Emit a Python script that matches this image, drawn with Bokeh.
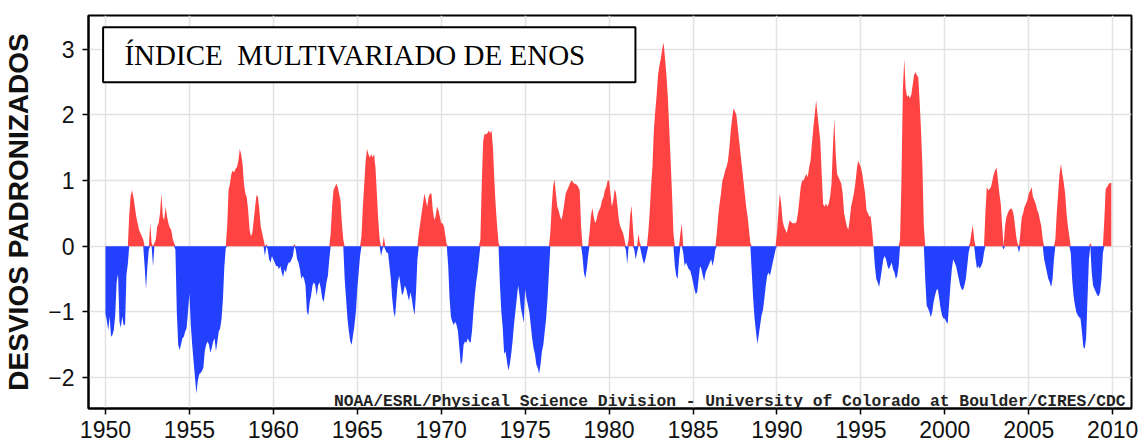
import numpy as np
from bokeh.plotting import figure
from bokeh.models import Range1d, FixedTicker, Label, BoxAnnotation
from bokeh.embed import file_html
from bokeh.resources import INLINE

# Multivariate ENSO Index, monthly (bimonthly season) values
mei_1950s = [
    -1.03, -1.13, -1.28, -1.07, -1.38, -1.35, -1.27, -1.04, -0.55, -0.42, -1.15, -1.24,
    -1.07, -1.2, -1.2, -0.44, -0.27, 0.48, 0.76, 0.85, 0.75, 0.6, 0.45, 0.35,
    0.25, 0.2, 0.15, 0.1, -0.3, -0.65, -0.3, -0.05, 0.35, 0.05, -0.31, 0.05,
    0.1, 0.3, 0.35, 0.5, 0.8, 0.45, 0.4, 0.6, 0.45, 0.35, 0.28, 0.25,
    0.12, 0.05, -0.05, -1.0, -1.5, -1.58, -1.5, -1.4, -1.38, -1.3, -1.25, -1.0,
    -0.72, -1.2, -1.5, -1.75, -2.0, -2.24, -2.05, -1.95, -1.93, -1.9, -1.85, -1.6,
    -1.5, -1.45, -1.5, -1.62, -1.55, -1.45, -1.4, -1.6, -1.45, -1.3, -1.25, -1.1,
    -0.8, -0.3, -0.03, 0.3, 0.85, 0.95, 1.1, 1.15, 1.12, 1.18, 1.2, 1.3,
    1.48, 1.4, 1.25, 0.95, 0.8, 0.75, 0.55, 0.25, 0.15, 0.2, 0.4, 0.6,
    0.78, 0.75, 0.55, 0.3, 0.2, 0.1, -0.15, 0.03, -0.05, -0.2, -0.25, -0.15,
]
mei_1960s = [
    -0.2, -0.25, -0.3, -0.3, -0.35, -0.3, -0.4, -0.47, -0.35, -0.4, -0.3, -0.25,
    -0.25, -0.2, -0.15, 0.03, -0.05, -0.2, -0.25, -0.35, -0.5, -0.45, -0.5, -0.6,
    -1.0, -1.05, -0.85, -0.75, -0.6, -0.55, -0.6, -0.75, -0.6, -0.55, -0.65, -0.8,
    -0.85, -0.7, -0.55, -0.45, -0.2, 0.2, 0.6, 0.85, 0.9, 0.95, 0.9, 0.8,
    0.7, 0.35, 0.1, -0.5, -0.8, -1.1, -1.3, -1.45, -1.5, -1.35, -1.2, -1.0,
    -0.65, -0.4, -0.15, 0.15, 0.6, 0.95, 1.3, 1.48, 1.4, 1.35, 1.4, 1.35,
    1.4, 1.2, 0.8, 0.4, 0.1, -0.15, -0.05, 0.15, -0.05, -0.1, -0.1, -0.3,
    -0.5, -0.8, -1.0, -1.08, -0.8, -0.55, -0.45, -0.6, -0.75, -0.7, -0.6, -0.65,
    -0.75, -0.83, -0.7, -0.8, -0.95, -1.05, -0.7, -0.2, 0.2, 0.35, 0.5, 0.65,
    0.8, 0.7, 0.6, 0.75, 0.8, 0.8, 0.55, 0.4, 0.45, 0.6, 0.55, 0.45,
]
mei_1970s = [
    0.35, 0.35, 0.3, 0.15, 0.02, -0.3, -0.8, -1.08, -1.15, -1.2, -1.15, -1.2,
    -1.3, -1.55, -1.8, -1.75, -1.5, -1.45, -1.47, -1.4, -1.45, -1.47, -1.3, -1.0,
    -0.75, -0.55, -0.4, -0.2, 0.1, 0.95, 1.6, 1.71, 1.7, 1.72, 1.76, 1.72,
    1.76, 1.5, 1.0, 0.6, 0.3, 0.05, -0.6, -1.0, -1.25, -1.64, -1.6, -1.75,
    -1.89, -1.8, -1.65, -1.45, -1.2, -1.0, -0.8, -0.6, -0.75, -0.95, -1.05, -1.17,
    -0.65, -0.8, -0.9, -1.0, -1.2, -1.4, -1.55, -1.64, -1.8, -1.85, -1.94, -1.8,
    -1.6, -1.5, -1.3, -1.1, -0.8, -0.4, 0.2, 0.6, 0.9, 1.02, 0.8, 0.6,
    0.54, 0.45, 0.4, 0.5, 0.65, 0.8, 0.85, 0.9, 0.95, 1.0, 0.98, 0.95,
    0.95, 0.93, 0.9, 0.85, 0.3, -0.15, -0.4, -0.49, -0.35, -0.15, 0.2, 0.45,
    0.58, 0.45, 0.35, 0.4, 0.5, 0.55, 0.6, 0.7, 0.75, 0.85, 0.9, 1.0,
]
mei_1980s = [
    1.0, 0.8, 0.6, 0.7, 0.87, 0.8, 0.6, 0.4, 0.3, 0.25, 0.2, 0.1,
    -0.05, -0.27, 0.1, 0.45, 0.62, 0.3, -0.05, -0.2, -0.1, 0.19, 0.05, -0.1,
    -0.2, -0.27, -0.2, -0.1, 0.2, 0.5, 0.9, 1.2, 1.76, 2.05, 2.3, 2.6,
    2.75, 2.85, 3.0, 3.1, 2.85, 2.6, 2.27, 1.8, 1.3, 0.8, 0.2, -0.3,
    -0.45, -0.5, -0.2, 0.2, 0.34, -0.1, -0.3, -0.25, -0.3, -0.35, -0.37, -0.45,
    -0.55, -0.65, -0.73, -0.7, -0.5, -0.3, -0.35, -0.45, -0.53, -0.4, -0.35, -0.3,
    -0.25, -0.2, -0.3, -0.2, -0.05, 0.2, 0.45, 0.65, 0.8, 1.0, 1.06, 1.15,
    1.21, 1.3, 1.5, 1.76, 1.95, 2.1, 2.05, 2.0, 1.8, 1.6, 1.4, 1.2,
    1.0, 0.8, 0.6, 0.45, 0.25, 0.05, -0.4, -0.8, -1.1, -1.3, -1.49, -1.35,
    -1.2, -1.05, -0.97, -0.8, -0.6, -0.45, -0.4, -0.45, -0.35, -0.25, -0.15, -0.05,
]
mei_1990s = [
    0.2, 0.5, 0.8, 0.65, 0.4, 0.3, 0.25, 0.2, 0.3, 0.39, 0.37, 0.35,
    0.35, 0.35, 0.37, 0.5, 0.7, 0.9, 1.0, 1.0, 1.05, 1.1, 1.05, 1.2,
    1.3, 1.56, 1.8, 2.0, 2.22, 2.0, 1.8, 1.6, 1.1, 0.64, 0.6, 0.65,
    0.6, 0.65, 0.75, 0.95, 1.5, 1.94, 1.4, 1.1, 1.05, 1.0, 0.95, 0.8,
    0.5, 0.4, 0.3, 0.25, 0.4, 0.6, 0.7, 0.8, 0.95, 1.15, 1.3, 1.25,
    1.2, 1.1, 0.95, 0.8, 0.55, 0.5, 0.45, 0.45, 0.25, 0.0, -0.3, -0.5,
    -0.55, -0.62, -0.5, -0.35, -0.2, -0.15, -0.2, -0.3, -0.35, -0.3, -0.25, -0.35,
    -0.4, -0.5, -0.45, -0.3, 0.1, 1.0, 2.37, 2.85, 2.4, 2.27, 2.3, 2.25,
    2.3, 2.45, 2.6, 2.65, 2.6, 2.57, 2.2, 1.76, 1.2, 0.3, -0.5, -0.9,
    -0.95, -1.0, -1.08, -1.0, -0.85, -0.75, -0.67, -0.65, -0.8, -0.95, -1.05, -1.1,
]
mei_2000s = [
    -1.1, -1.15, -1.18, -0.9, -0.6, -0.35, -0.2, -0.25, -0.3, -0.4, -0.5, -0.6,
    -0.65, -0.67, -0.6, -0.5, -0.3, -0.1, 0.05, 0.2, 0.32, 0.1, -0.2, -0.34,
    -0.3, -0.34, -0.3, -0.25, -0.1, 0.5, 0.9, 0.85, 0.87, 0.9, 1.0, 1.1,
    1.15, 1.2, 1.0, 0.8, 0.64, 0.3, -0.05, 0.3, 0.44, 0.5, 0.55, 0.57,
    0.57, 0.5, 0.35, 0.15, 0.04, -0.1, 0.2, 0.44, 0.5, 0.6, 0.64, 0.7,
    0.8, 0.84, 0.9, 0.75, 0.7, 0.64, 0.55, 0.5, 0.4, 0.3, 0.1, -0.2,
    -0.3, -0.4, -0.5, -0.55, -0.62, -0.5, -0.2, 0.1, 0.5, 0.8, 1.1, 1.25,
    1.1, 0.97, 0.8, 0.5, 0.3, 0.15, -0.1, -0.5, -0.75, -0.9, -1.0, -1.05,
    -1.08, -1.1, -1.3, -1.53, -1.56, -1.4, -0.8, -0.2, 0.05, -0.4, -0.6, -0.65,
    -0.7, -0.75, -0.76, -0.7, -0.5, -0.1, 0.4, 0.87, 0.9, 0.94, 0.96, 0.96,
]
start_year = 1950
x_ticks = list(range(1950, 2011, 5))
y_ticks = [-2, -1, 0, 1, 2, 3]
y_tick_labels = {-2: "\u22122", -1: "\u22121", 0: "0", 1: "1", 2: "2", 3: "3"}
title_text = "\u00cdNDICE\u00a0 MULTIVARIADO DE ENOS"
credit_text = "NOAA/ESRL/Physical Science Division - University of Colorado at Boulder/CIRES/CDC"
y_label = "DESVIOS PADRONIZADOS"

mei = np.array(mei_1950s + mei_1960s + mei_1970s + mei_1980s + mei_1990s + mei_2000s)
t = start_year + np.arange(len(mei)) / 12.0

p = figure(width=1145, height=448,
           x_range=Range1d(1948.99, 2011.12), y_range=Range1d(-2.47, 3.51),
           output_backend="svg", toolbar_location=None,
           min_border_left=86, min_border_right=14, min_border_top=15, min_border_bottom=40)

p.background_fill_color = "white"
p.border_fill_color = "white"
p.outline_line_color = "black"
p.outline_line_width = 2

for g in (p.xgrid, p.ygrid):
    g.grid_line_color = "#e2e2e2"
    g.grid_line_width = 1.5
p.xgrid.ticker = FixedTicker(ticks=x_ticks)
p.ygrid.ticker = FixedTicker(ticks=y_ticks)

p.varea(x=t, y1=0, y2=np.maximum(mei, 0), fill_color="#ff4242")
p.varea(x=t, y1=0, y2=np.minimum(mei, 0), fill_color="#2340ff")

p.xaxis.ticker = FixedTicker(ticks=x_ticks)
p.yaxis.ticker = FixedTicker(ticks=y_ticks)
p.yaxis.major_label_overrides = y_tick_labels
for ax in (p.xaxis, p.yaxis):
    ax.axis_line_color = "black"
    ax.axis_line_width = 2
    ax.major_tick_line_color = "black"
    ax.major_tick_line_width = 1.5
    ax.major_tick_out = 6
    ax.major_tick_in = 0
    ax.minor_tick_out = 0
    ax.minor_tick_in = 0
    ax.major_label_text_font = "Liberation Sans"
    ax.major_label_text_font_size = "23px"
    ax.major_label_text_color = "#111111"
p.xaxis.major_label_standoff = 6
p.yaxis.major_label_standoff = 8
p.yaxis.axis_label = y_label
p.yaxis.axis_label_text_font = "Liberation Sans"
p.yaxis.axis_label_text_font_style = "bold"
p.yaxis.axis_label_text_font_size = "28px"
p.yaxis.axis_label_text_color = "#111111"
p.yaxis.axis_label_standoff = 11

box = BoxAnnotation(left=1949.86, right=1981.57, bottom=2.496, top=3.333,
                    fill_color="white", fill_alpha=1.0,
                    line_color="black", line_alpha=1.0, line_width=2)
p.add_layout(box)

p.add_layout(Label(x=1951.13, y=2.915, text=title_text, text_baseline="middle",
                   text_font="Liberation Serif", text_font_size="29px",
                   text_color="black"))

p.add_layout(Label(x=2010.76, y=-2.364, text=credit_text, text_align="right",
                   text_baseline="alphabetic", text_font="Liberation Mono",
                   text_font_size="16.3px", text_font_style="bold",
                   text_color="#222222"))

open("out.html", "w").write(file_html(p, INLINE))
